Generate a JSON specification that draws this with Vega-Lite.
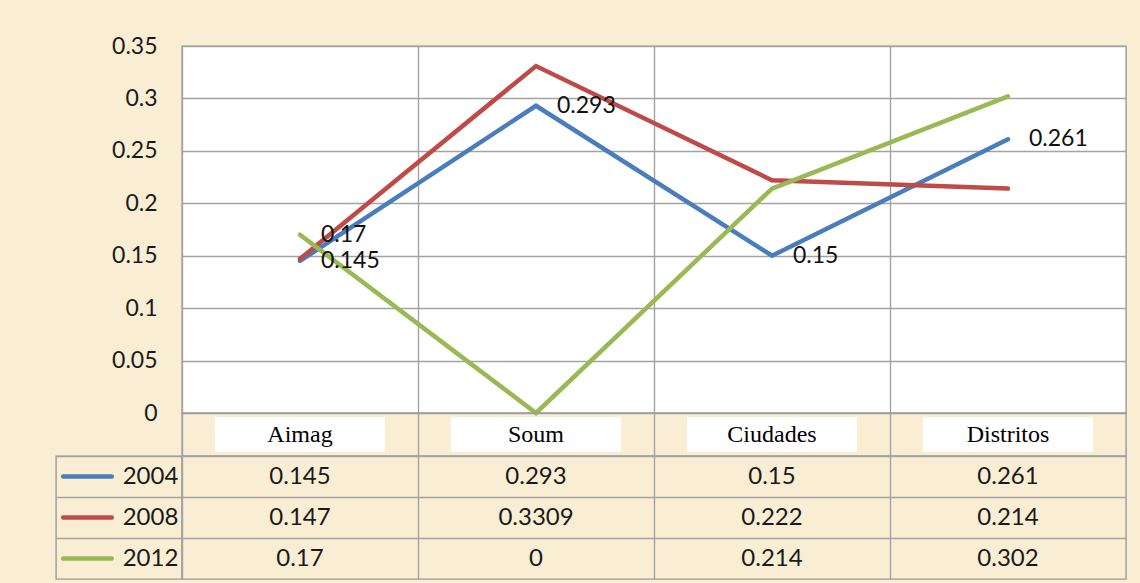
{
  "$schema": "https://vega.github.io/schema/vega-lite/v6.json",
  "background": "#f9eed3",
  "padding": {"left": 55, "top": 34, "right": 15, "bottom": 4},
  "datasets": {
    "d": [
      {"cat": "Aimag", "series": "2004", "value": 0.145},
      {"cat": "Aimag", "series": "2008", "value": 0.147},
      {"cat": "Aimag", "series": "2012", "value": 0.17},
      {"cat": "Soum", "series": "2004", "value": 0.293},
      {"cat": "Soum", "series": "2008", "value": 0.3309},
      {"cat": "Soum", "series": "2012", "value": 0},
      {"cat": "Ciudades", "series": "2004", "value": 0.15},
      {"cat": "Ciudades", "series": "2008", "value": 0.222},
      {"cat": "Ciudades", "series": "2012", "value": 0.214},
      {"cat": "Distritos", "series": "2004", "value": 0.261},
      {"cat": "Distritos", "series": "2008", "value": 0.214},
      {"cat": "Distritos", "series": "2012", "value": 0.302}
    ],
    "cats": [{"cat": "Aimag"}, {"cat": "Soum"}, {"cat": "Ciudades"}, {"cat": "Distritos"}],
    "years": [{"series": "2004"}, {"series": "2008"}, {"series": "2012"}]
  },
  "columns": 2,
  "spacing": 0,
  "bounds": "flush",
  "config": {
    "font": "Lato",
    "view": {"stroke": "#9a9a9a", "strokeWidth": 1.4},
    "axis": {"gridColor": "#a3a3a3", "gridWidth": 1.4, "gridOpacity": 1}
  },
  "concat": [
    {
      "width": 126, "height": 367,
      "view": {"stroke": null},
      "data": {"values": [{}]},
      "mark": {"type": "text", "text": ""}
    },
    {
      "width": 944, "height": 367,
      "view": {"fill": "white", "stroke": "#9a9a9a"},
      "data": {"name": "d"},
      "encoding": {
        "x": {
          "field": "cat", "type": "nominal", "sort": null, "bandPosition": 0.5,
          "scale": {"type": "band", "domain": ["Aimag", "Soum", "Ciudades", "Distritos"], "paddingInner": 0, "paddingOuter": 0},
          "axis": {"labels": false, "ticks": false, "domain": false, "grid": true, "bandPosition": 0, "title": null}
        },
        "y": {
          "field": "value", "type": "quantitative",
          "scale": {"domain": [0, 0.35], "nice": false},
          "axis": {"values": [0, 0.05, 0.1, 0.15, 0.2, 0.25, 0.3, 0.35], "format": "~g", "title": null, "domain": false, "ticks": false, "labelPadding": 25, "labelFontSize": 23, "labelColor": "#1a1a1a", "labelFont": "Lato"}
        }
      },
      "layer": [
        {
          "mark": {"type": "line", "strokeWidth": 4.5, "strokeCap": "round", "strokeJoin": "miter"},
          "encoding": {
            "color": {"field": "series", "type": "nominal", "scale": {"domain": ["2004", "2008", "2012"], "range": ["#4a7dbb", "#be4b48", "#98b954"]}, "legend": null}
          }
        },
        {
          "transform": [{"filter": "datum.series == '2004' || (datum.series == '2012' && datum.cat == 'Aimag')"}],
          "mark": {"type": "text", "align": "left", "baseline": "middle", "dx": 21, "fontSize": 23, "color": "#111111", "font": "Lato"},
          "encoding": {"text": {"field": "value", "type": "nominal"}}
        }
      ]
    },
    {
      "width": 126, "height": 43,
      "view": {"stroke": null},
      "data": {"values": [{}]},
      "mark": {"type": "text", "text": ""}
    },
    {
      "width": 944, "height": 43,
      "data": {"name": "cats"},
      "encoding": {
        "x": {
          "field": "cat", "type": "nominal", "sort": null,
          "scale": {"type": "band", "domain": ["Aimag", "Soum", "Ciudades", "Distritos"], "paddingInner": 0, "paddingOuter": 0},
          "axis": {"labels": false, "ticks": false, "domain": false, "grid": true, "bandPosition": 0, "title": null}
        }
      },
      "layer": [
        {
          "mark": {"type": "bar", "color": "white", "width": {"band": 0.72}, "height": {"band": 0.8}},
          "encoding": {
            "y": {"datum": "h", "type": "nominal", "scale": {"type": "band", "domain": ["h"], "paddingInner": 0, "paddingOuter": 0}, "axis": null}
          }
        },
        {
          "mark": {"type": "text", "font": "Liberation Serif", "fontSize": 24, "color": "#000000", "baseline": "middle"},
          "encoding": {"text": {"field": "cat", "type": "nominal"}}
        }
      ]
    },
    {
      "width": 126, "height": 123,
      "data": {"name": "years"},
      "encoding": {
        "y": {
          "field": "series", "type": "nominal", "sort": null,
          "scale": {"type": "band", "domain": ["2004", "2008", "2012"], "paddingInner": 0, "paddingOuter": 0},
          "axis": {"labels": false, "ticks": false, "domain": false, "grid": true, "bandPosition": 0, "title": null}
        }
      },
      "layer": [
        {
          "mark": {"type": "bar", "width": {"band": 0.84}, "height": 4.5, "cornerRadius": 2},
          "encoding": {
            "x": {"datum": "sw", "type": "nominal", "scale": {"type": "band", "domain": ["sw", "lb"], "paddingInner": 0, "paddingOuter": 0}, "axis": null},
            "color": {"field": "series", "type": "nominal", "scale": {"domain": ["2004", "2008", "2012"], "range": ["#4a7dbb", "#be4b48", "#98b954"]}, "legend": null}
          }
        },
        {
          "mark": {"type": "text", "fontSize": 24, "color": "#1a1a1a", "font": "Lato", "baseline": "middle"},
          "encoding": {
            "x": {"datum": "lb", "type": "nominal", "scale": {"type": "band", "domain": ["sw", "lb"], "paddingInner": 0, "paddingOuter": 0}, "axis": null},
            "text": {"field": "series", "type": "nominal"}
          }
        }
      ]
    },
    {
      "width": 944, "height": 123,
      "data": {"name": "d"},
      "mark": {"type": "text", "fontSize": 24, "color": "#1a1a1a", "font": "Lato", "baseline": "middle"},
      "encoding": {
        "x": {
          "field": "cat", "type": "nominal", "sort": null,
          "scale": {"type": "band", "domain": ["Aimag", "Soum", "Ciudades", "Distritos"], "paddingInner": 0, "paddingOuter": 0},
          "axis": {"labels": false, "ticks": false, "domain": false, "grid": true, "bandPosition": 0, "title": null}
        },
        "y": {
          "field": "series", "type": "nominal", "sort": null,
          "scale": {"type": "band", "domain": ["2004", "2008", "2012"], "paddingInner": 0, "paddingOuter": 0},
          "axis": {"labels": false, "ticks": false, "domain": false, "grid": true, "bandPosition": 0, "title": null}
        },
        "text": {"field": "value", "type": "nominal"}
      }
    }
  ]
}
